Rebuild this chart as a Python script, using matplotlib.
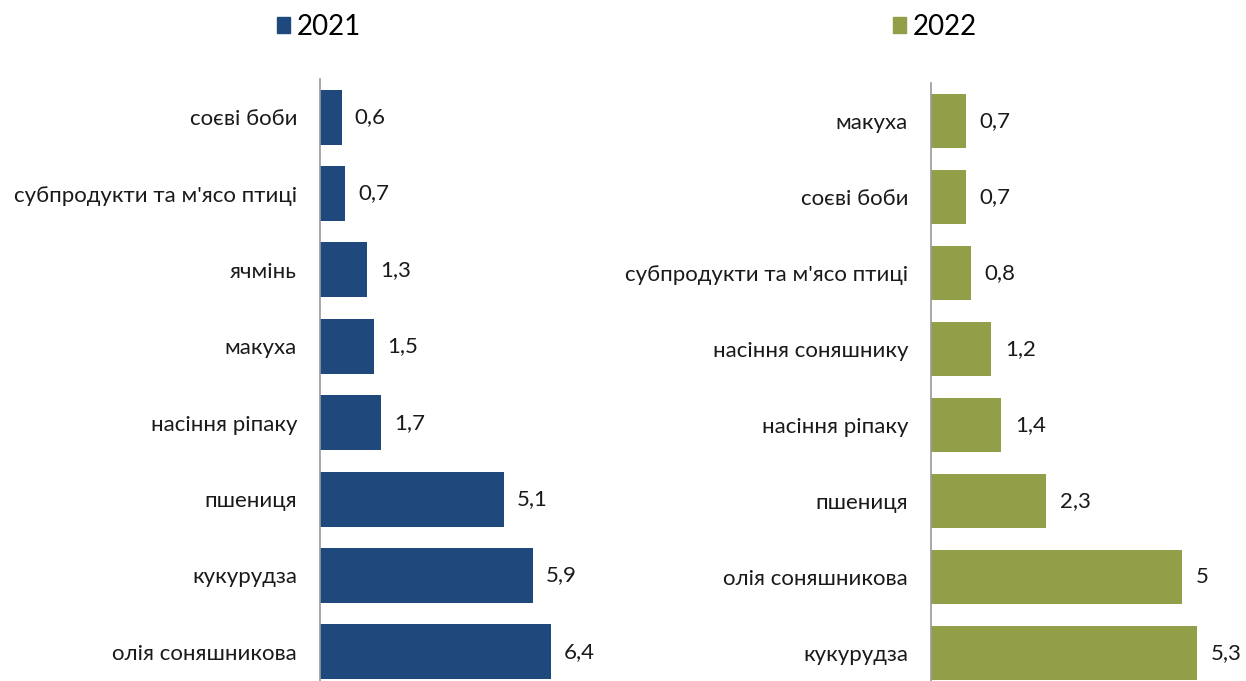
import numpy as np
import matplotlib.pyplot as plt
from matplotlib.patches import Patch

plt.rcParams['font.family'] = ['Lato', 'DejaVu Sans']

# 2021, зверху вниз
cat_2021 = ["соєві боби", "субпродукти та м'ясо птиці", "ячмінь", "макуха",
            "насіння ріпаку", "пшениця", "кукурудза", "олія соняшникова"]
val_2021 = [0.6, 0.7, 1.3, 1.5, 1.7, 5.1, 5.9, 6.4]

# 2022, зверху вниз
cat_2022 = ["макуха", "соєві боби", "субпродукти та м'ясо птиці",
            "насіння соняшнику", "насіння ріпаку", "пшениця",
            "олія соняшникова", "кукурудза"]
val_2022 = [0.7, 0.7, 0.8, 1.2, 1.4, 2.3, 5.0, 5.3]

W, H = 1246, 681
fig = plt.figure(figsize=(W / 100, H / 100), dpi=100)


def fmt(v):
    return f"{v:g}".replace('.', ',')


def panel(rect, cats, vals, color, xmax, year, leg_x):
    x0, top, w, bottom = rect
    ax = fig.add_axes([x0 / W, 1 - bottom / H, w / W, (bottom - top) / H])
    y = np.arange(len(cats))
    ax.barh(y, vals, height=0.72, color=color)
    ax.set_ylim(len(cats) - 0.5, -0.5)
    ax.set_xlim(0, xmax)
    ax.set_yticks(y)
    ax.set_yticklabels(cats, fontsize=16, color='#1a1a1a')
    ax.tick_params(axis='y', length=0, pad=16.5)
    ax.set_xticks([])
    for s in ['top', 'right', 'bottom']:
        ax.spines[s].set_visible(False)
    ax.spines['left'].set_color('#9a9a9a')
    ax.spines['left'].set_linewidth(1.2)
    for yi, v in zip(y, vals):
        ax.text(v + xmax * 0.045, yi, fmt(v), va='center', ha='left',
                fontsize=16, color='#1a1a1a')
    fig.legend(handles=[Patch(color=color, label=year)],
               loc='center left', bbox_to_anchor=(leg_x / W, 1 - 27 / H),
               frameon=False, fontsize=20, handlelength=0.47,
               handleheight=0.47, handletextpad=0.25, borderaxespad=0)
    return ax


panel((320, 79, 289, 690), cat_2021, val_2021, '#1f497d', 8.0, '2021', 266)
panel((931, 83, 301, 691), cat_2022, val_2022, '#939e49', 6.0, '2022', 882)

fig.savefig('out.png', dpi=100)
